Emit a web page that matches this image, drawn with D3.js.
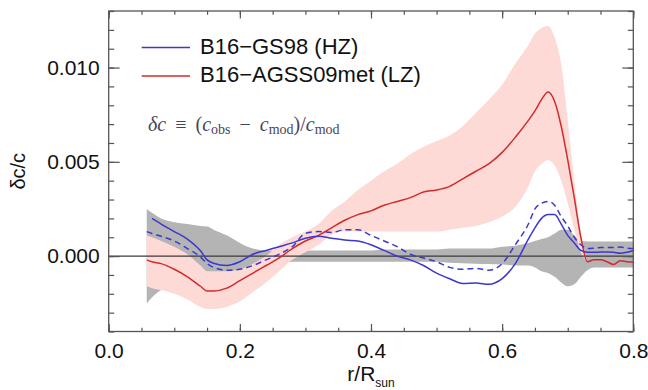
<!DOCTYPE html>
<html>
<head>
<meta charset="utf-8">
<script src="https://cdn.jsdelivr.net/npm/d3@7"></script>
<style>
  html, body { margin: 0; padding: 0; background: #fff; }
  svg { display: block; }
</style>
</head>
<body>
<svg id="chart" width="648" height="390"></svg>
<script>
// ---------- data ----------
const radius = [0.058, 0.066, 0.08, 0.10, 0.12, 0.14, 0.15, 0.16, 0.18, 0.20, 0.22, 0.24, 0.26, 0.28, 0.30,
  0.32, 0.34, 0.36, 0.38, 0.40, 0.42, 0.44, 0.46, 0.48, 0.50, 0.52, 0.54, 0.56, 0.58, 0.60, 0.62, 0.64,
  0.65, 0.66, 0.67, 0.68, 0.69, 0.70, 0.71, 0.72, 0.73, 0.74, 0.75, 0.76, 0.77, 0.78, 0.79, 0.80];

// B16-AGSS09met (LZ), red line
const agss09 = [-0.0002, -0.0003, -0.0004, -0.0007, -0.0011, -0.0016, -0.00185, -0.00185, -0.0017, -0.0013,
  -0.0009, -0.0005, -0.0001, 0.0004, 0.0008, 0.0011, 0.0015, 0.0019, 0.0022, 0.0024, 0.0027, 0.0029, 0.0031,
  0.0034, 0.0035, 0.0037, 0.0041, 0.0045, 0.0049, 0.0055, 0.0063, 0.0072, 0.0077, 0.0083, 0.0087, 0.0082,
  0.0069, 0.0051, 0.0031, 0.0010, -0.0003, -0.0002, -0.0002, -0.0003, -0.00045, -0.00025, -0.0003, -0.00033];

// B16-GS98 (HZ), blue solid line
const gs98 = [null, 0.0020, 0.0017, 0.0013, 0.0009, 0.00028, -0.0002, -0.00038, -0.0005, -0.0003, 0.0001,
  0.0003, 0.0005, 0.0007, 0.00095, 0.00105, 0.00095, 0.00085, 0.0008, 0.0006, 0.0003, 0.0000, -0.0002,
  -0.0005, -0.0009, -0.0012, -0.00145, -0.00143, -0.0015, -0.0012, -0.0004, 0.0009, 0.0015, 0.0020, 0.0022,
  0.0022, 0.0017, 0.0011, 0.0007, 0.0003, 0.0002, 0.0002, 0.00022, 0.00022, 0.0002, 0.00015, 0.0002, 0.0003];

// B16-GS98 (HZ), blue dashed line
const gs98Dashed = [0.0013, 0.0012, 0.00105, 0.0008, 0.0004, -0.00005, -0.0004, -0.0006, -0.00075, -0.0007,
  -0.0005, -0.0002, 0.0001, 0.0005, 0.0012, 0.0013, 0.00125, 0.0014, 0.0014, 0.0011, 0.0008, 0.0005, 0.0001,
  -0.0001, -0.0003, -0.0006, -0.0007, -0.00065, -0.00075, -0.0004, 0.0006, 0.0017, 0.0025, 0.0028, 0.0029,
  0.0027, 0.0021, 0.0016, 0.0010, 0.0006, 0.0004, 0.00042, 0.00045, 0.00045, 0.00045, 0.00048, 0.00042, 0.0004];

// grey band (upper / lower)
const greyUpper = [0.0025, 0.0023, 0.0020, 0.0018, 0.0017, 0.0016, 0.00157, 0.0014, 0.0011, 0.0007, 0.0004,
  0.0003, 0.0003, 0.0003, 0.0003, 0.0003, 0.0003, 0.0003, 0.0003, 0.0003, 0.00035, 0.00035, 0.00035, 0.00035,
  0.00035, 0.0004, 0.0004, 0.0004, 0.0004, 0.0005, 0.00055, 0.0007, 0.0008, 0.0009, 0.0010, 0.0012, 0.0014,
  0.0014, 0.0011, 0.0008, 0.00078, 0.00078, 0.00078, 0.00078, 0.00078, 0.00078, 0.00078, 0.00078];
const greyLower = [-0.0025, -0.0022, -0.0018, -0.0016, -0.0015, -0.0014, -0.0014, -0.0013, -0.0012, -0.0010,
  -0.0008, -0.0006, -0.0004, -0.0003, -0.0003, -0.0003, -0.0003, -0.0003, -0.0003, -0.0003, -0.0003, -0.0003,
  -0.0003, -0.0003, -0.0003, -0.00035, -0.00038, -0.0004, -0.00042, -0.00045, -0.0005, -0.0005, -0.0006,
  -0.0008, -0.0009, -0.0011, -0.0014, -0.0016, -0.0015, -0.0011, -0.00075, -0.0006, -0.0006, -0.0006, -0.0006,
  -0.0006, -0.0006, -0.0006];

// pink band (upper / lower), around the AGSS09met model
const pinkUpper = [0.0011, 0.0010, 0.0008, 0.0005, 0.0001, -0.0005, -0.0008, -0.0008, -0.0008, -0.0007, -0.0004,
  0.0000, 0.0006, 0.0010, 0.0013, 0.0017, 0.0024, 0.0029, 0.0035, 0.0040, 0.0045, 0.0049, 0.0054, 0.0058,
  0.0061, 0.0064, 0.0069, 0.0076, 0.0083, 0.0091, 0.0102, 0.0112, 0.0118, 0.0121, 0.0122, 0.0116, 0.0102,
  0.0072, 0.0040, 0.0012, -0.0003, null, null, null, null, null, null, null];
const pinkLower = [-0.0016, -0.0017, -0.0018, -0.0020, -0.0023, -0.0027, -0.0028, -0.0028, -0.0027, -0.0024,
  -0.0019, -0.0014, -0.0008, -0.0002, 0.0002, 0.0006, 0.00115, 0.0013, 0.0013, 0.0013, 0.0013, 0.0013, 0.0013,
  0.0013, 0.0013, 0.0014, 0.0015, 0.0016, 0.0018, 0.0021, 0.0026, 0.0037, 0.0045, 0.0049, 0.0051, 0.0048,
  0.0040, 0.0028, 0.0014, 0.0002, -0.0003, null, null, null, null, null, null, null];

const xMajorTicks = [0.0, 0.2, 0.4, 0.6, 0.8];
const xMinorTicks = d3.range(0, 0.8001, 0.05);
const yMajorTicks = [0.000, 0.005, 0.010];
const yMinorTicks = d3.range(-0.004, 0.01301, 0.001);
const legendLabels = ["B16\u2212GS98 (HZ)", "B16\u2212AGSS09met (LZ)"];
const legendColors = ["#3b37cf", "#d42a2c"];

// ---------- layout ----------
const SANS = "'Liberation Sans', Arial, Helvetica, sans-serif";
const SERIF = "'Liberation Serif', 'Times New Roman', serif";
const svg = d3.select("#chart");
const plot = { left: 108.7, right: 633.3, top: 11, bottom: 331.5 };
const x = d3.scaleLinear().domain([0, 0.8]).range([plot.left, plot.right]);
const y = d3.scaleLinear().domain([-0.004, 0.013]).range([plot.bottom, plot.top]);

svg.append("defs").append("clipPath").attr("id", "clip")
  .append("rect").attr("x", plot.left).attr("y", plot.top)
  .attr("width", plot.right - plot.left).attr("height", plot.bottom - plot.top);

const g = svg.append("g").attr("clip-path", "url(#clip)");

const rows = radius.map((r, i) => ({
  r, red: agss09[i], blue: gs98[i], dash: gs98Dashed[i],
  gu: greyUpper[i], gl: greyLower[i], pu: pinkUpper[i], pl: pinkLower[i]
}));

// grey band
g.append("path").datum(rows)
  .attr("fill", "#b4b4b4")
  .attr("d", d3.area().curve(d3.curveMonotoneX)
    .x(d => x(d.r)).y0(d => y(d.gl)).y1(d => y(d.gu)));

// pink band
g.append("path").datum(rows)
  .attr("fill", "#fddad6")
  .attr("d", d3.area().curve(d3.curveMonotoneX)
    .defined(d => d.pu !== null)
    .x(d => x(d.r)).y0(d => y(d.pl)).y1(d => y(d.pu)));

// zero line
g.append("line")
  .attr("x1", plot.left).attr("x2", plot.right)
  .attr("y1", y(0)).attr("y2", y(0))
  .attr("stroke", "#3a3a3a").attr("stroke-width", 1.1);

const line = key => d3.line().curve(d3.curveMonotoneX)
  .defined(d => d[key] !== null)
  .x(d => x(d.r)).y(d => y(d[key]));

g.append("path").datum(rows).attr("fill", "none")
  .attr("stroke", legendColors[1]).attr("stroke-width", 1.5).attr("d", line("red"));
g.append("path").datum(rows).attr("fill", "none")
  .attr("stroke", legendColors[0]).attr("stroke-width", 1.5).attr("d", line("blue"));
g.append("path").datum(rows).attr("fill", "none")
  .attr("stroke", legendColors[0]).attr("stroke-width", 1.5)
  .attr("stroke-dasharray", "6,4").attr("d", line("dash"));

// ---------- axes (inward ticks, IDL style) ----------
function styleAxis(sel) {
  sel.select(".domain").remove();
  sel.attr("font-size", 21).attr("font-family", SANS);
  sel.selectAll(".tick line").attr("stroke", "#555").attr("stroke-width", 1.2);
  sel.selectAll("text").attr("fill", "#111");
}
const fmt = d3.format(".3f");

svg.append("g").attr("transform", `translate(${plot.left},0)`)
  .call(d3.axisLeft(y).tickValues(yMinorTicks).tickSize(-5.5).tickFormat("")).call(styleAxis);
svg.append("g").attr("transform", `translate(${plot.left},0)`)
  .call(d3.axisLeft(y).tickValues(yMajorTicks).tickSize(-11).tickPadding(9).tickFormat(fmt)).call(styleAxis);

svg.append("g").attr("transform", `translate(${plot.right},0)`)
  .call(d3.axisRight(y).tickValues(yMinorTicks).tickSize(-5.5).tickFormat("")).call(styleAxis);
svg.append("g").attr("transform", `translate(${plot.right},0)`)
  .call(d3.axisRight(y).tickValues(yMajorTicks).tickSize(-11).tickFormat("")).call(styleAxis);

svg.append("g").attr("transform", `translate(0,${plot.bottom})`)
  .call(d3.axisBottom(x).tickValues(xMinorTicks).tickSize(-3.8).tickFormat("")).call(styleAxis);
svg.append("g").attr("transform", `translate(0,${plot.bottom})`)
  .call(d3.axisBottom(x).tickValues(xMajorTicks).tickSize(-7.5).tickPadding(11.5).tickFormat(d3.format(".1f")))
  .call(styleAxis);

svg.append("g").attr("transform", `translate(0,${plot.top})`)
  .call(d3.axisTop(x).tickValues(xMinorTicks).tickSize(-3.8).tickFormat("")).call(styleAxis);
svg.append("g").attr("transform", `translate(0,${plot.top})`)
  .call(d3.axisTop(x).tickValues(xMajorTicks).tickSize(-7.5).tickFormat("")).call(styleAxis);

// frame
svg.append("rect")
  .attr("x", plot.left).attr("y", plot.top)
  .attr("width", plot.right - plot.left).attr("height", plot.bottom - plot.top)
  .attr("fill", "none").attr("stroke", "#555").attr("stroke-width", 1.3);

// axis titles
const xt = svg.append("text")
  .attr("x", (plot.left + plot.right) / 2).attr("y", 381)
  .attr("text-anchor", "middle").attr("font-size", 21).attr("fill", "#111")
  .attr("font-family", SANS);
xt.append("tspan").text("r/R");
xt.append("tspan").attr("font-size", 12).attr("dy", 6).text("sun");

svg.append("text")
  .attr("transform", `translate(25,${(plot.top + plot.bottom) / 2}) rotate(-90)`)
  .attr("text-anchor", "middle").attr("font-size", 20).attr("fill", "#111")
  .attr("font-family", SANS)
  .text("\u03b4c/c");

// legend
const leg = svg.append("g");
legendLabels.forEach((lab, i) => {
  const yy = 47.5 + i * 28.5;
  leg.append("line").attr("x1", 141.7).attr("x2", 190).attr("y1", yy).attr("y2", yy)
    .attr("stroke", legendColors[i]).attr("stroke-width", 1.5);
  leg.append("text").attr("x", 200).attr("y", yy + 6).attr("font-size", 22).attr("fill", "#111")
    .attr("font-family", SANS)
    .text(lab);
});

// formula
const f = svg.append("text")
  .attr("x", 148).attr("y", 131)
  .attr("font-family", SERIF)
  .attr("font-size", 20).attr("fill", "#45455a")
  .style("white-space", "pre");
f.append("tspan").attr("font-style", "italic").text("\u03b4c");
f.append("tspan").text("\u2009 \u2261 \u2009(");
f.append("tspan").attr("font-style", "italic").text("c");
f.append("tspan").attr("font-size", 14).attr("dy", 3).text("obs");
f.append("tspan").attr("dy", -3).text("\u2009 \u2212 \u2009");
f.append("tspan").attr("font-style", "italic").text("c");
f.append("tspan").attr("font-size", 14).attr("dy", 3).text("mod");
f.append("tspan").attr("dy", -3).text(")/");
f.append("tspan").attr("font-style", "italic").text("c");
f.append("tspan").attr("font-size", 14).attr("dy", 3).text("mod");
</script>
</body>
</html>
